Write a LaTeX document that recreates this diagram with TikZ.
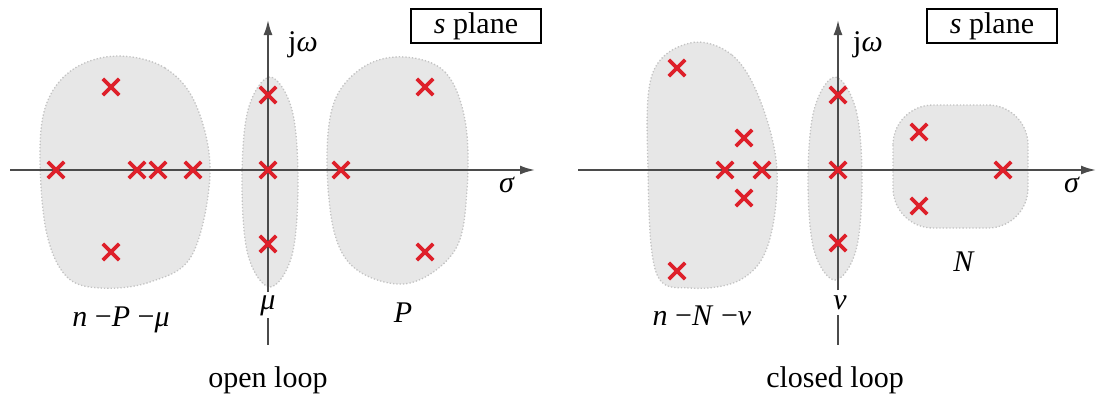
\documentclass[tikz,border=0pt]{standalone}
\usepackage{fontspec}
\setmainfont{Liberation Serif}
\usetikzlibrary{shapes.misc,arrows.meta}
\definecolor{polered}{RGB}{222,32,42}
\definecolor{axisgray}{RGB}{75,75,75}
\definecolor{blobgray}{RGB}{231,231,231}
\definecolor{blobedge}{RGB}{195,195,195}
\begin{document}
\begin{tikzpicture}[x=1pt,y=-1pt,
  pole/.style={cross out,draw=polered,line width=3.8pt,minimum size=12.5pt,inner sep=0pt},
  axisline/.style={draw=axisgray,line width=2pt},
  axisarrow/.style={axisline,-{Latex[length=15pt,width=9pt]}},
  blob/.style={fill=blobgray,draw=blobedge,line width=1.3pt,dotted},
  lbl/.style={font=\fontsize{30}{34}\selectfont,inner sep=0pt},
  planebox/.style={draw=black,line width=1.2pt,font=\fontsize{30}{34}\selectfont,minimum width=130pt,minimum height=34pt,inner sep=0pt}]
\useasboundingbox (0,0) rectangle (1096,405);
% ---------- left: open loop ----------
\path[blob] plot[smooth cycle,tension=0.6] coordinates {(118,56) (165,68) (196,105) (210,173) (192,255) (150,282) (100,288) (66,276) (46,230) (40,150) (48,100) (75,68)};
\path[blob] plot[smooth cycle,tension=0.6] coordinates {(270,77) (292,110) (298,182) (292,255) (270,287) (248,255) (242,182) (248,110)};
\path[blob] plot[smooth cycle,tension=0.6] coordinates {(405,57) (445,72) (465,120) (467,190) (455,250) (410,283) (360,272) (335,235) (327,160) (335,100) (365,66)};
\coordinate (hL1) at (10,170);
\coordinate (hL2) at (535,170);
\coordinate (vL1) at (268,292);
\coordinate (vL2) at (268,20);
\coordinate (vL3) at (268,318);
\coordinate (vL4) at (268,345);
\draw[axisarrow] (hL1) -- (hL2);
\draw[axisarrow] (vL1) -- (vL2);
\draw[axisline] (vL3) -- (vL4);
\node[pole] (a1) at (111,87) {};
\node[pole] (a2) at (56,170) {};
\node[pole] (a3) at (137,170) {};
\node[pole] (a4) at (158,170) {};
\node[pole] (a5) at (193,170) {};
\node[pole] (a6) at (268,170) {};
\node[pole] (a7) at (268,95) {};
\node[pole] (a8) at (268,244) {};
\node[pole] (a9) at (341,170) {};
\node[pole] (a10) at (425,87) {};
\node[pole] (a11) at (425,252) {};
\node[pole] (a12) at (111,252) {};
\node[lbl] (jwL) at (303,45) {j\textit{ω}};
\node[lbl] (sigL) at (507,185) {\textit{σ}};
\node[lbl] (muL) at (268,306) {\textit{μ}};
\node[lbl] (nPmu) at (121,320) {\textit{n} −\textit{P} −\textit{μ}};
\node[lbl] (PL) at (403,313) {\textit{P}};
\node[lbl] (openL) at (268,380) {open loop};
\node[planebox] (boxL) at (476,26) {\textit{s} plane};
% ---------- right: closed loop ----------
\path[blob] plot[smooth cycle,tension=0.6] coordinates {(690,43) (732,55) (760,100) (777,170) (768,245) (740,280) (690,288) (656,272) (648,170) (652,75)};
\path[blob] plot[smooth cycle,tension=0.6] coordinates {(835,77) (856,110) (862,180) (856,250) (835,280) (814,250) (808,180) (814,110)};
\path[blob,rounded corners=40pt] (893,105) rectangle (1028,228);
\coordinate (hR1) at (578,170);
\coordinate (hR2) at (1096,170);
\coordinate (vR1) at (838,290);
\coordinate (vR2) at (838,20);
\coordinate (vR3) at (838,315);
\coordinate (vR4) at (838,345);
\draw[axisarrow] (hR1) -- (hR2);
\draw[axisarrow] (vR1) -- (vR2);
\draw[axisline] (vR3) -- (vR4);
\node[pole] (b1) at (677,68) {};
\node[pole] (b2) at (677,271) {};
\node[pole] (b3) at (744,138) {};
\node[pole] (b4) at (725,170) {};
\node[pole] (b5) at (762,170) {};
\node[pole] (b6) at (744,198) {};
\node[pole] (b7) at (838,95) {};
\node[pole] (b8) at (838,170) {};
\node[pole] (b9) at (838,243) {};
\node[pole] (b10) at (919,132) {};
\node[pole] (b11) at (919,206) {};
\node[pole] (b12) at (1003,170) {};
\node[lbl] (jwR) at (868,45) {j\textit{ω}};
\node[lbl] (sigR) at (1072,185) {\textit{σ}};
\node[lbl] (nuR) at (840,303) {\textit{ν}};
\node[lbl] (nNnu) at (702,316) {\textit{n} −\textit{N} −\textit{ν}};
\node[lbl] (NR) at (964,262) {\textit{N}};
\node[lbl] (closedR) at (835,380) {closed loop};
\node[planebox] (boxR) at (992,26) {\textit{s} plane};
\end{tikzpicture}
\end{document}
